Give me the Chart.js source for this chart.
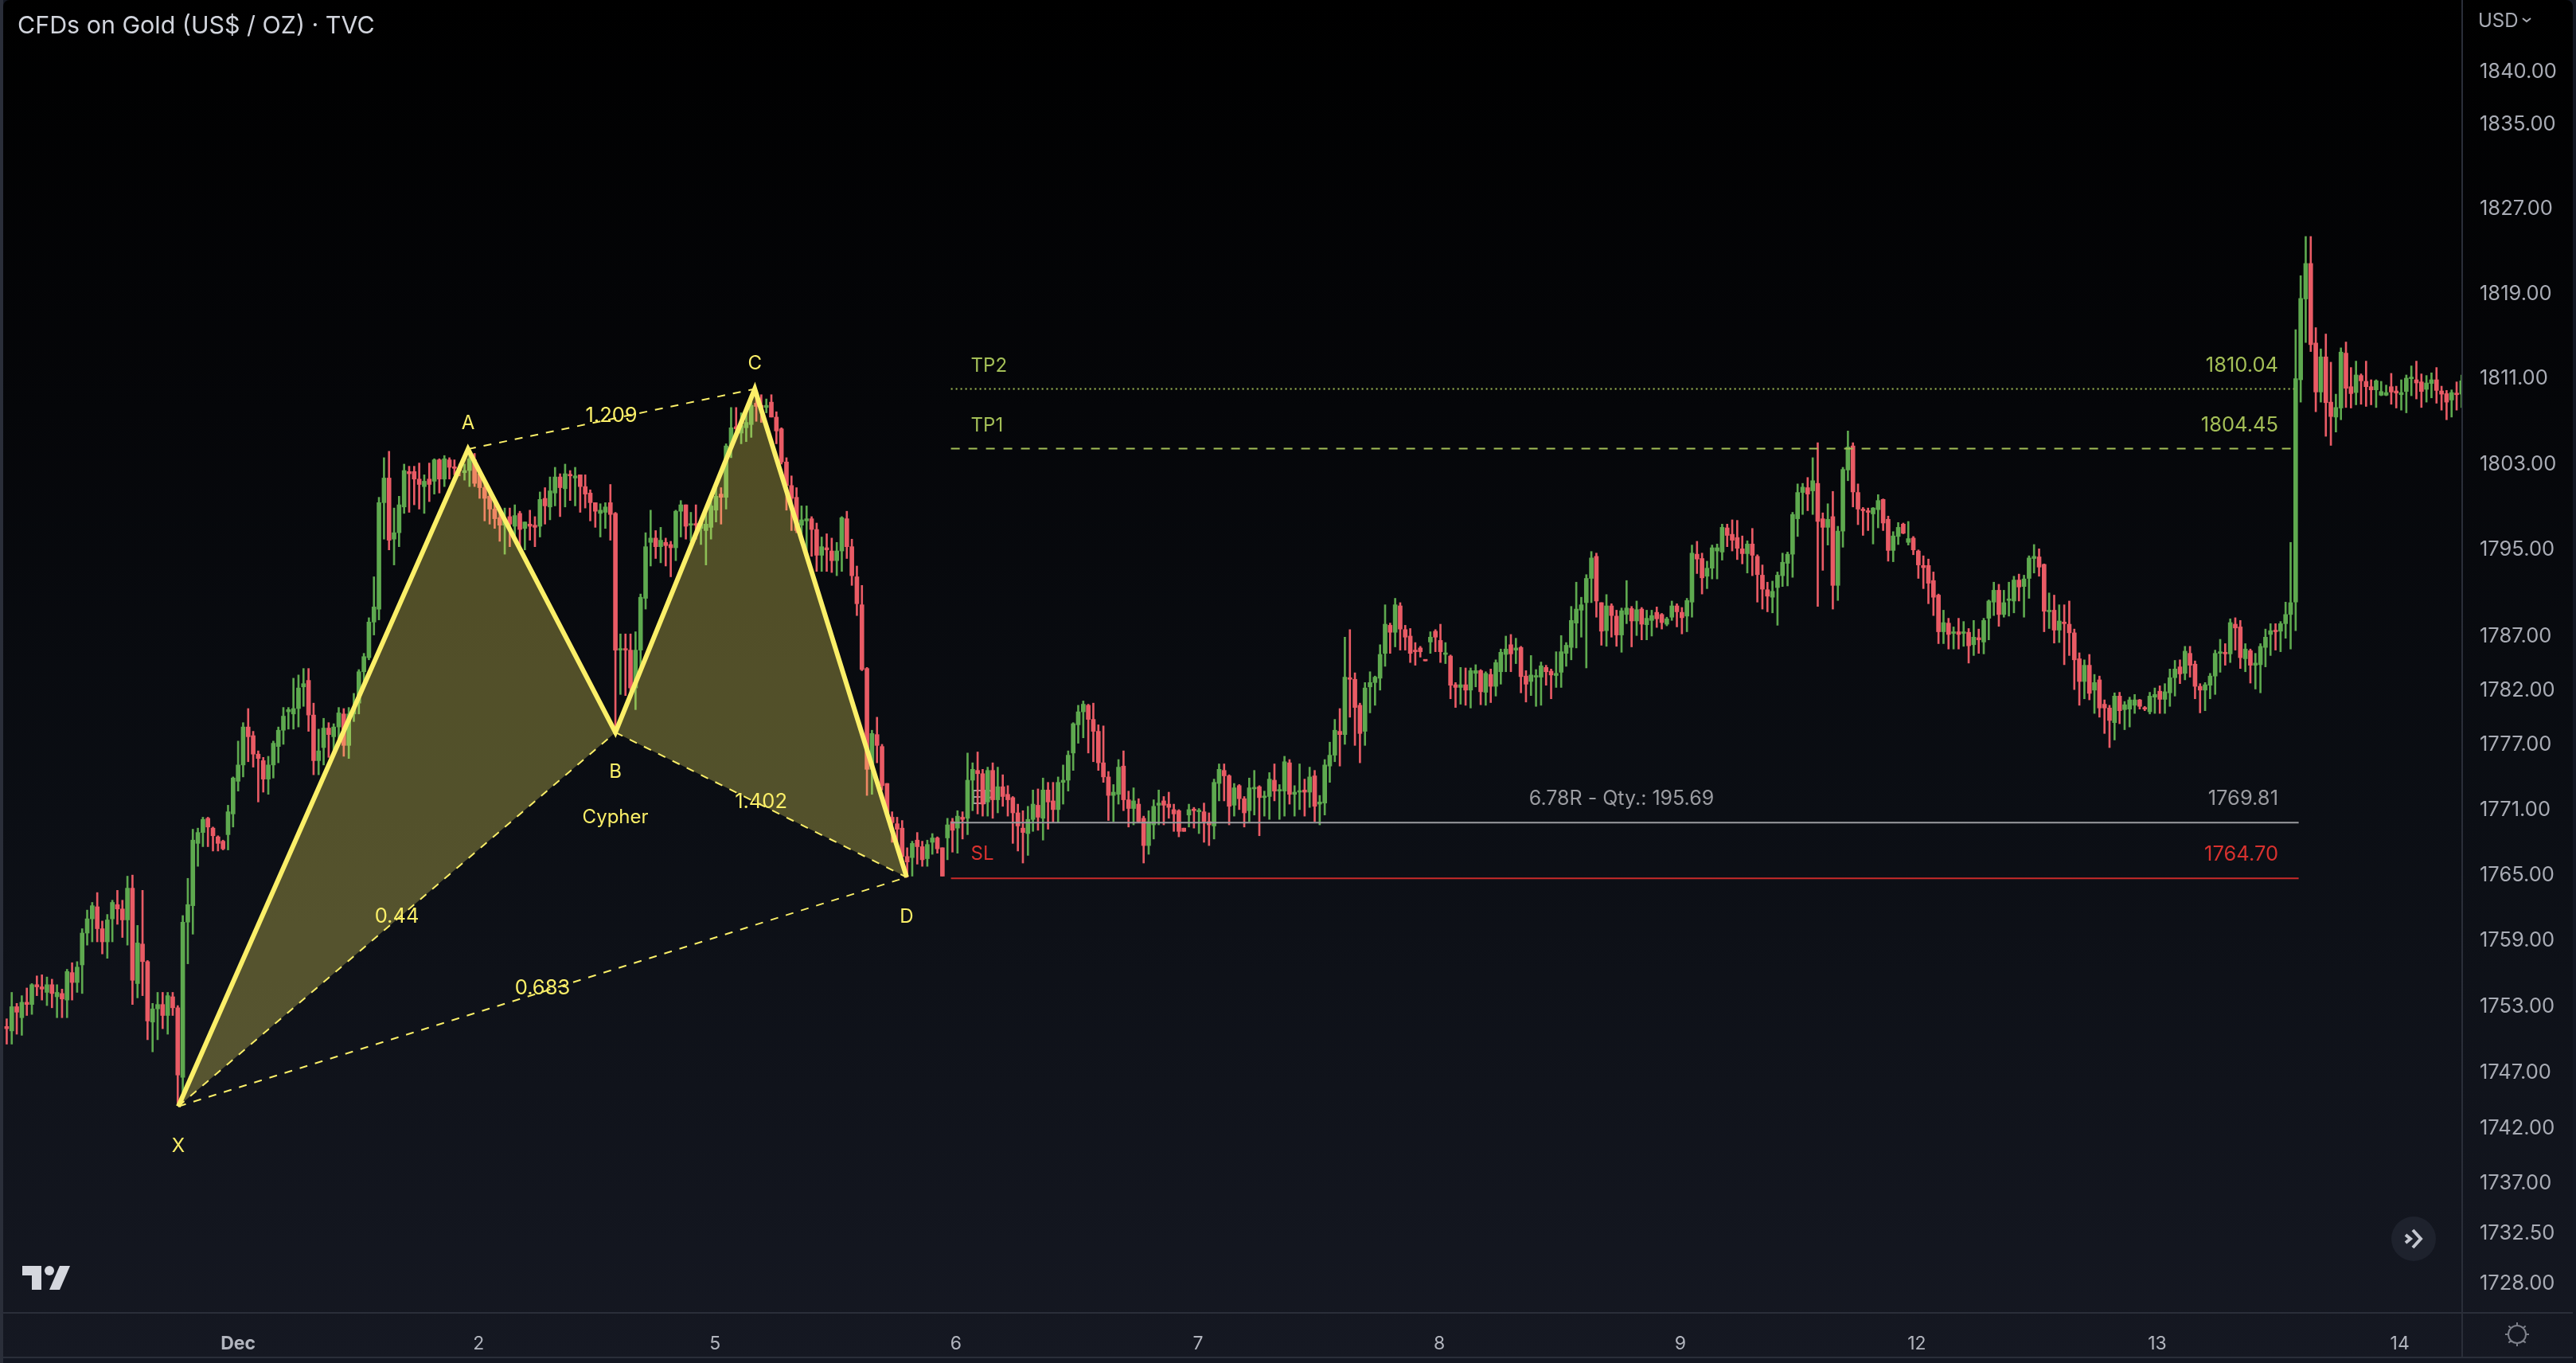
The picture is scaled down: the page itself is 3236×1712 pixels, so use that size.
<!DOCTYPE html>
<html lang="en">
<head>
    <meta charset="UTF-8">
    <title>CFDs on Gold (US$ / OZ) · TVC</title>
    <script src="https://cdn.jsdelivr.net/npm/chart.js"></script>
    <style>
        html, body { margin: 0; padding: 0; background: #131722; overflow: hidden; }
        body { width: 3236px; height: 1712px; position: relative; }
        .stripe { position: absolute; left: 0; top: 0; width: 4px; height: 1712px; background: #2a2e39; }
        .frame {
            position: absolute; left: 4px; top: 0; width: 3228px; height: 1705px;
            background: linear-gradient(#000000 0%, #050609 30%, #0b0e14 60%, #151822 100%);
            border-top-left-radius: 8px; border-top-right-radius: 8px;
        }
        .edge { position: absolute; left: 0; top: 1704px; width: 3232px; height: 2px; background: #2a2e39; }
    </style>
</head>
<body>
    <div class="stripe"></div>
    <div class="frame"><canvas id="goldChart" width="3228" height="1705"></canvas></div>
    <div class="edge"></div>

    <script>
        // every bar is [open, close, high, low]
        const barsNov30 = [
            [1751.2,1751,1751.9,1749.6],[1750.8,1753,1754.3,1749.6],[1753,1752.5,1753.3,1750.5],[1752,1753.4,1754,1750.4],[1753.4,1753.2,1754.7,1752.2],
            [1753.2,1755,1755.1,1752.3],[1755,1754.8,1755.8,1754],[1754.8,1754.6,1755.9,1753.6],[1754.3,1755,1755.7,1753.1],[1755,1754.2,1755.5,1752.9],
            [1753.9,1754.3,1755,1752],[1754.2,1753.7,1754.6,1752],[1753.6,1756.2,1756.4,1752],[1756.1,1755.2,1757,1753.6],[1755.2,1756.6,1757.1,1754.3],
            [1756.8,1759.7,1760.1,1754.2],[1759.7,1761,1761.8,1758.6],[1761,1762.2,1762.5,1758.9],[1762.1,1760.1,1763.4,1758.9],[1760.1,1758.9,1760.8,1757.8],
            [1758.9,1760.9,1761.4,1757.4],[1761,1762.5,1762.7,1758.9],[1762.3,1761.9,1763.6,1760.5],[1761.9,1760.9,1762.7,1759.3],[1760.9,1763.8,1764.9,1758.6],
            [1763.8,1755.4,1765,1753.2],[1755.1,1758.8,1760.4,1753.8],[1758.7,1757.1,1763.6,1754],[1757.1,1751.7,1757.2,1750],[1751.6,1752.8,1753.3,1748.9],
            [1752.8,1753.2,1754.3,1750],[1753.2,1752.2,1754.3,1751],[1752.2,1754,1754.3,1750.5],[1753.9,1752.9,1754.3,1752.2],[1752.9,1746.8,1753.1,1744.2],
            [1746.6,1760.7,1761.3,1745.1],[1760.7,1762.3,1764.7,1756.9],[1762.2,1768.2,1769.2,1759.6],[1767.9,1768.9,1769.3,1765.8],[1768.9,1770.1,1770.3,1767.6],
            [1770.2,1769.4,1770.3,1767.6],[1769.3,1768.6,1769.4,1767.2],[1768.5,1767.9,1768.6,1767.2],[1768.1,1767.4,1768.2,1767.3],[1768.7,1770.8,1771.4,1767.3],
            [1770.6,1773.9,1774,1769.4]
        ];
        const barsDec1 = [
            [1773.6,1775.1,1777.3,1772.7],[1775.1,1778.6,1779,1774],[1778.6,1777.7,1780.3,1775.4],[1777.8,1776.1,1778.2,1774.9],[1776.1,1775.7,1776.4,1771.7],
            [1775.5,1773.8,1775.8,1772.6],[1773.8,1775.1,1775.9,1772.4],[1775.1,1777.1,1777.3,1773.9],[1776.8,1778.3,1778.6,1775.3],[1778.3,1779.6,1780.4,1777],
            [1780,1780.2,1780.4,1778.4],[1779.8,1780.3,1783.1,1778.4],[1780.3,1782.2,1783.4,1778.6],[1782.3,1782.6,1784,1780.5],[1782.9,1779.7,1784,1778.2],
            [1779.7,1775.5,1780.8,1774.2],[1775.5,1776.4,1778.4,1774.2],[1776.7,1778.5,1779.4,1775.1],[1778.5,1777.9,1779,1775.8],[1777.7,1778.6,1778.9,1776.3],
            [1778.6,1779.9,1780.4,1777],[1779.8,1776.9,1780.3,1775.9],[1776.9,1779.8,1780.4,1775.7],[1779.8,1780.3,1781.7,1779.1],[1780.8,1783.7,1783.9,1779.8],
            [1783.7,1785.1,1785.4,1782.4],[1785,1788.3,1788.7,1784.8],[1788.3,1789.7,1792.5,1787.1],[1789.5,1799.4,1799.9,1788.5],[1799.4,1801.7,1803.6,1796],
            [1801.7,1795.9,1804.2,1795],[1796,1796.6,1798.9,1793.6],[1796.6,1799.2,1800,1795.3],[1799,1802.4,1803,1798.4],[1802.3,1802.1,1802.8,1798.5],
            [1802.3,1801.6,1802.8,1799.2],[1801.6,1801.1,1803.1,1798.8],[1800.9,1801.4,1802,1798.4],[1801.6,1801.1,1803.1,1799.5],[1801.4,1803.4,1803.5,1800.2],
            [1803.4,1801.6,1803.5,1800.3],[1801.6,1803.5,1803.8,1800.9],[1803.4,1802.7,1803.6,1801.6],[1802.7,1802.6,1803.4,1802],[1802.6,1802.4,1803,1801.9],
            [1802.2,1802.4,1803,1801.5],[1802.4,1803.5,1804.5,1800.9],[1803.4,1801.2,1804,1800.9]
        ];
        const barsDec2 = [
            [1802.1,1800.8,1802.5,1799.8],[1800.8,1799.8,1801.2,1797.7],[1800,1798.8,1800.6,1797.4],[1798.8,1797.9,1799.5,1797],[1798,1797.3,1798.9,1795.8],
            [1797.3,1797.8,1798.9,1794.6],[1798.1,1797.4,1798.9,1795.3],[1797.2,1798.2,1799.2,1796.2],[1798.4,1796.9,1798.6,1795.3],[1797,1797.6,1797.6,1795],
            [1797.4,1797.2,1798.7,1795.9],[1797.3,1797.1,1798.1,1795.3],[1797.2,1799.7,1800.4,1796.2],[1799.8,1799.1,1800.8,1797.4],[1799,1800.5,1801.8,1797.8],
            [1800.3,1801.8,1802.7,1799.1],[1801.8,1800.8,1802.1,1798.1],[1800.7,1802.1,1803,1799],[1802,1801.9,1802.4,1799.6],[1801.7,1801.9,1802.7,1799.1],
            [1802,1800.9,1802,1798.5],[1800.9,1800.2,1802,1798.9],[1800.3,1799.4,1800.6,1797.7],[1799.4,1798.6,1799.4,1797.1],[1798.4,1798.7,1799.3,1796.2],
            [1798.5,1799,1799.4,1797],[1799.4,1798.3,1801.1,1795.9],[1798.4,1785.7,1798.5,1778.4],[1785.7,1785.8,1787.2,1781.6],[1785.8,1785.7,1787.2,1781.5],
            [1785.7,1782.2,1787.2,1781.3],[1782.2,1785.7,1787.4,1780.2],[1785.7,1790.6,1790.9,1783.8],[1790.5,1795.3,1796.6,1789.5],[1795.7,1796.1,1798.7,1793.5],
            [1796.1,1795.3,1796.8,1794.2],[1795.3,1795.9,1797.1,1793.8],[1795.7,1795.4,1796.1,1793.5],[1795.5,1795.2,1795.8,1792.5],[1795.2,1798.6,1798.7,1794],
            [1798.6,1799.2,1799.6,1796.2],[1799.2,1797.2,1799.2,1796],[1797.3,1797.4,1798.5,1795.8],[1797.4,1797.3,1799.2,1796],[1797,1797.5,1797.9,1795.5],
            [1796.8,1797.4,1798.5,1793.6],[1797.1,1799.1,1799.8,1796]
        ];
        const barsDec5 = [
            [1798.7,1800,1801,1797.6],[1800.2,1799.9,1800.8,1797.4],[1799.9,1804.7,1804.9,1798.8],[1804.7,1806.4,1808.3,1803.6],[1806.5,1806.3,1808.3,1805.7],
            [1805.9,1806.6,1807.8,1804.9],[1806.4,1806.9,1808,1805.1],[1806.7,1808.5,1808.9,1805.5],[1808.7,1808.4,1809.9,1807],[1808.5,1808.3,1809.5,1806.9],
            [1808.3,1808.5,1809.1,1807.8],[1808.8,1807.4,1809.5,1807.4],[1807.4,1806.1,1807.9,1804.9],[1806.3,1803.2,1806.4,1803],[1803.2,1801,1803.6,1798.7],
            [1801,1799.8,1801.9,1796.8],[1799.9,1796.8,1800.8,1796.6],[1797.3,1797.8,1799.1,1796.2],[1797.7,1797.9,1799.1,1794.9],[1797.9,1796.9,1798.1,1794.4],
            [1796.9,1794.5,1797.5,1793],[1794.5,1795.3,1796.2,1793],[1795.2,1795,1796.5,1793],[1794.9,1794,1796.1,1792.9],[1794,1794.9,1795.7,1792.6],
            [1794.9,1798,1798.1,1793],[1797.9,1795.3,1798.6,1794.2],[1795.3,1792.6,1796,1791.7],[1792.5,1790,1793.5,1788.9],[1789.9,1783.9,1791.7,1783.8],
            [1784,1774.7,1784.1,1772.3],[1774.7,1778,1778.3,1772.4],[1777.9,1776.9,1779.5,1775.3],[1776.8,1773.2,1777,1772.8],[1773.4,1770.7,1773.4,1770.3],
            [1770.3,1769.8,1770.8,1768],[1769.7,1769.2,1770.3,1767.9],[1769.3,1766.7,1770,1765.8],[1766.7,1766.2,1767.5,1764.8],[1766.6,1767.9,1768.1,1764.9],
            [1768.2,1767.6,1768.9,1766],[1767.6,1766.4,1768.1,1765.8],[1766.5,1767.8,1768.2,1765.8],[1768,1768.4,1768.8,1766.9],[1768.4,1767.4,1768.5,1767],
            [1767.5,1764.9,1767.5,1764.9],[1768.4,1769.6,1770.2,1766.4],[1769.9,1769.1,1770.2,1767.1]
        ];
        const barsDec6 = [
            [1769.3,1770.4,1770.9,1767],[1770.3,1770.1,1770.8,1768.3],[1770.2,1773.7,1776.2,1768.7],[1773.7,1774.7,1775.3,1770.9],[1774.6,1774.3,1776.3,1770.6],
            [1774.3,1771.5,1774.7,1770.4],[1771.7,1774.6,1774.9,1770.4],[1774.6,1771.9,1775.3,1770.2],[1771.9,1773.1,1774.9,1770.7],[1773.1,1772.2,1774.2,1771.3],
            [1772.4,1771.9,1773.2,1770.4],[1772.1,1770.7,1772.2,1767.9],[1770.7,1769.5,1771.5,1767.2],[1769.3,1768.9,1770.9,1766.1],[1768.8,1770.1,1771.3,1766.8],
            [1770.1,1771.5,1772.8,1769],[1771.4,1770.3,1772.9,1769.1],[1770.2,1772.8,1773.9,1768.2],[1772.8,1771.7,1773.5,1769.2],[1771.8,1771,1773.5,1769.8],
            [1771,1773.5,1774,1769.8],[1773.5,1773.7,1775.1,1771.5],[1773.7,1776,1776.4,1772.7],[1776.2,1778.9,1779,1774.6],[1778.8,1780,1780.6,1777.1],
            [1780,1780.7,1781,1777.6],[1780.6,1779.3,1780.7,1776.2],[1779.3,1778.2,1780.8,1775.4],[1778.2,1775.3,1778.8,1774.6],[1775.3,1774,1778.7,1773.5],
            [1774,1772.3,1774.5,1770],[1772.3,1772.6,1773.3,1769.9],[1772.4,1774.9,1775.6,1771.5],[1775,1771.9,1776.4,1770.9],[1771.9,1771.1,1772.7,1769.4],
            [1771.1,1771.8,1773,1769.6],[1771.5,1769.9,1772,1769.8],[1770.2,1767.7,1770.4,1766.1],[1767.7,1769.9,1770.9,1766.9],[1769.6,1771.3,1771.9,1768.3],
            [1771.4,1771.6,1772.8,1769.6],[1771.8,1771.4,1772.2,1769.6],[1771.5,1771.2,1772.6,1770.2],[1771,1770.6,1771.5,1769],[1770.9,1769,1771,1768.5],
            [1769.3,1769,1769.3,1769],[1770.5,1771,1771.5,1769.4],[1771,1770.9,1771.2,1769.3]
        ];
        const barsDec7 = [
            [1770.8,1770.9,1771.1,1768.8],[1770.8,1769.9,1771.6,1768],[1769.9,1769.6,1770.7,1767.7],[1769.5,1773.5,1773.8,1768.3],[1773.4,1774.7,1775.2,1771.8],
            [1774.6,1774.1,1775.2,1771.8],[1774.1,1771.3,1774.2,1769.6],[1771.4,1773,1773.4,1770.4],[1773.2,1772,1773.3,1771],[1772,1770.7,1772.2,1769.4],
            [1770.9,1773,1773.9,1769.9],[1772.9,1773,1774.6,1770.5],[1773.1,1772.1,1773.2,1768.6],[1772.1,1772.2,1772.7,1770.4],[1772.2,1773.8,1774.4,1770.1],
            [1773.7,1772.7,1775.2,1771.8],[1772.7,1772.8,1773.3,1770.1],[1772.7,1775.4,1775.9,1770.4],[1775.3,1772.4,1775.6,1771.5],[1772.4,1772.6,1773.2,1770.4],
            [1772.6,1772.7,1775.2,1771],[1772.8,1772.6,1773.8,1770.4],[1772.6,1774,1774.9,1771.2],[1774.1,1771.3,1774.6,1769.9],[1771.5,1771.7,1772.3,1769.6],
            [1771.6,1775.1,1775.6,1770.5],[1775,1776,1777.2,1773.5],[1776,1778.3,1779.3,1775.4],[1778.2,1777.9,1780.3,1775],[1777.9,1783.2,1786.9,1777],
            [1783.1,1783,1787.6,1779.5],[1783,1780.4,1783.6,1776.9],[1780.6,1778,1780.8,1775.3],[1778.2,1782.2,1782.7,1776.9],[1782.3,1782.7,1783.7,1779.9],
            [1782.7,1783.2,1783.3,1780.6],[1783.1,1785.3,1786.2,1782],[1785.4,1788.1,1789.9,1784.2],[1788,1787.35,1788.2,1785.4],[1787.35,1789.9,1790.5,1786],
            [1789.8,1787.65,1790.1,1785.7],[1787.6,1786.9,1788,1785.7],[1787,1785.4,1787.7,1784.55],[1785.7,1785.55,1786.4,1784.3],[1785.9,1785.55,1786.05,1785.05],
            [1784.8,1784.7,1784.8,1784.7],[1786.45,1786.9,1787.4,1785.4],[1787.45,1786.9,1787.6,1785.55]
        ];
        const barsDec8 = [
            [1786.6,1785.55,1788.1,1784.55],[1785.3,1785.4,1786.4,1784.45],[1785.15,1782.45,1785.25,1781.2],[1782.5,1782.25,1782.7,1780.4],[1782.25,1782.5,1784.1,1780.7],
            [1782.5,1782,1784.05,1780.6],[1782,1783.8,1784.05,1780.35],[1783.55,1783.8,1784.35,1782.3],[1783.8,1781.85,1783.9,1780.65],[1781.8,1783.55,1783.7,1780.6],
            [1783.45,1782.35,1783.95,1780.85],[1782.35,1784.55,1784.8,1781.45],[1783.7,1785.5,1785.8,1782.55],[1785.3,1785.8,1787,1783.7],[1786.2,1785.35,1787.15,1783.7],
            [1785.7,1785.9,1786.8,1784.45],[1785.95,1783.25,1786.05,1781.75],[1783.3,1782.55,1783.8,1780.9],[1782.8,1783.4,1785.2,1781.5],[1783.2,1783.3,1783.9,1780.5],
            [1783.2,1784.25,1784.6,1780.6],[1784.1,1783.7,1784.3,1782.45],[1783.75,1783.4,1783.95,1781.2],[1783.35,1783.55,1785.55,1782.25],[1783.65,1785.55,1787.05,1782.25],
            [1785.4,1786.15,1786.4,1784.2],[1785.95,1788.45,1789.75,1784.8],[1788.2,1789.5,1792,1785.9],[1789.4,1789.9,1790.6,1786.9],[1790.1,1792.35,1792.7,1784.05],
            [1792.35,1794.25,1794.85,1790.1],[1794.4,1790.25,1794.7,1788.75],[1790.1,1787.45,1790.1,1786.15],[1787.5,1789.8,1790.85,1786.05],[1789.8,1788.9,1790,1786.9],
            [1788.85,1787.1,1789.4,1786.05],[1787.1,1789.35,1789.6,1785.5],[1789,1789.6,1792.15,1788.15],[1789.55,1788.4,1789.75,1786],[1788.4,1789.45,1790.25,1787.05],
            [1789.5,1788.1,1789.65,1786.65],[1788.05,1788.65,1789.4,1786.65],[1788.45,1788.9,1789.4,1787],[1789.2,1788.6,1789.7,1787.8],[1789,1788.25,1789.1,1787.65],
            [1788.1,1788.6,1788.75,1787.95],[1788.75,1789.8,1790.25,1788.45],[1789.8,1789.25,1790,1787.85]
        ];
        const barsDec9 = [
            [1789.2,1788.7,1789.65,1787.2],[1788.85,1790.3,1790.5,1787.4],[1790.15,1794.7,1795.45,1788.75],[1794.6,1794.15,1795.8,1792.8],[1794.2,1792.4,1794.7,1790.9],
            [1792.55,1793.3,1793.95,1791.4],[1793.3,1795.2,1795.45,1792.3],[1794.9,1795.2,1795.55,1792.3],[1794.8,1797.1,1797.4,1794.05],[1797.05,1796.35,1797.4,1795.3],
            [1796.45,1795.9,1797.8,1794.9],[1796.15,1795.15,1797.75,1794.1],[1795.1,1794.65,1796.3,1793.7],[1794.65,1795.55,1795.85,1792.85],[1795.55,1794.5,1797,1792.6],
            [1794.4,1792.7,1794.55,1790.15],[1792.65,1791.35,1793.6,1789.5],[1791.3,1790.7,1792,1789.25],[1790.6,1791.15,1792.1,1789.15],[1791.5,1792.65,1792.95,1788],
            [1792.6,1793.85,1794.7,1791.6],[1793.75,1794.6,1794.8,1791.65],[1794.6,1798.3,1798.5,1792.45],[1797.9,1800.35,1801.15,1796.25],[1800.35,1800.85,1801.2,1798.3],
            [1800.8,1800.2,1801.75,1798.65],[1800.5,1801.45,1803.6,1798.3],[1801.2,1797.65,1805,1789.75],[1797.9,1797.1,1798.45,1793.1],[1797.1,1797.85,1799.3,1795.45],
            [1798.1,1791.7,1800.45,1789.5],[1791.7,1796.75,1797.2,1790.3],[1796.75,1802.5,1802.7,1795.25],[1802.45,1804.6,1806.1,1801.45],[1804.7,1800.4,1805,1799],
            [1800.35,1798.8,1801.15,1797.35],[1798.8,1798.65,1798.95,1796.35],[1798.65,1798.5,1798.9,1796.8],[1798.35,1798.9,1798.95,1795.55],[1798.75,1799.6,1800.15,1797.05],
            [1799.7,1797.5,1799.75,1796.8],[1797.85,1794.95,1798.15,1793.95],[1794.95,1796.3,1796.7,1793.9],[1796.25,1797.1,1797.55,1795.5],[1797.4,1796.55,1797.5,1796.5],
            [1795.7,1796.05,1797.65,1795.45],[1796.1,1795,1796.25,1794.55]
        ];
        const barsDec12 = [
            [1794.9,1793.6,1795,1792.35],[1793.55,1793.35,1794.45,1791.4],[1793.55,1791.9,1794.15,1790],[1792.15,1790.6,1792.95,1788.9],[1790.8,1787.4,1790.9,1786.3],
            [1787.4,1788.25,1789.4,1786.3],[1788.2,1787.15,1788.65,1785.8],[1787.25,1787.4,1787.85,1785.8],[1787.4,1787.15,1788.65,1785.8],[1787.25,1787.4,1788.35,1786.05],
            [1787.35,1786.1,1787.7,1784.5],[1786.2,1786.9,1788.45,1785.2],[1786.85,1786.65,1787.65,1785.4],[1786.45,1788.45,1788.65,1785.35],[1788.65,1790.25,1790.35,1786.65],
            [1790.15,1791.25,1792,1788.9],[1791.25,1789,1791.8,1787.9],[1789,1790.1,1791.25,1788.75],[1790.3,1790.45,1792,1788.85],[1790.25,1792.2,1792.55,1789.15],
            [1792.2,1791.55,1792.75,1790.25],[1791.6,1792.3,1792.65,1788.75],[1792.35,1794.25,1794.45,1790.5],[1794.2,1794.4,1795.5,1792.85],[1794.35,1793.4,1795.1,1792.55],
            [1793.65,1789.3,1793.7,1787.4],[1789.25,1789.4,1791,1787.7],[1789.4,1787.55,1790.8,1786.35],[1787.55,1788.4,1789.9,1786.4],[1788.3,1788.15,1789.9,1784.35],
            [1788.1,1787.3,1790.25,1785.2],[1787.3,1784.8,1787.65,1782.05],[1784.9,1782.8,1785.45,1780.6],[1782.8,1784.3,1784.8,1781.2],[1784.3,1781.7,1785.3,1781.1],
            [1782,1782.7,1783.45,1779.85],[1782.95,1780.35,1783.3,1779.5],[1780.7,1780.35,1781.1,1778],[1780.35,1779.2,1780.6,1776.7],[1779,1781.45,1781.75,1777.4],
            [1781.45,1780.1,1781.8,1778.9],[1780.2,1780.65,1780.95,1778.35],[1780.25,1781.1,1781.35,1778.6],[1780.6,1781.1,1781.6,1779.85],[1781.1,1780.5,1781.15,1780.25],
            [1780.35,1780.25,1780.5,1780.1],[1780,1781.45,1781.8,1779.8],[1781.35,1781.6,1782.2,1779.85]
        ];
        const barsDec13 = [
            [1781.9,1781.15,1782.4,1779.85],[1781.15,1781.85,1782.6,1779.85],[1781.75,1783.15,1783.95,1780.5],[1783.15,1783.95,1784.75,1781.45],[1784.15,1783.5,1784.8,1782.6],
            [1783.55,1785.6,1786.05,1782.95],[1785.4,1784.3,1786.05,1783.2],[1784.4,1782.35,1784.7,1781.2],[1782.35,1782,1782.6,1779.9],[1782,1782.5,1782.7,1780.1],
            [1782.45,1783.3,1783.55,1781.2],[1783.3,1785.4,1785.7,1781.6],[1785.4,1785.55,1786.7,1783.65],[1785.5,1785.35,1786.3,1784.3],[1785.35,1788.25,1788.6,1784.55],
            [1788.1,1787.75,1788.7,1785.7],[1787.85,1785,1788.45,1784],[1784.9,1785.8,1786.3,1783.7],[1785.65,1784.3,1785.8,1782.65],[1784.3,1784.5,1785.4,1782.1],
            [1784.35,1786.05,1786.3,1781.75],[1785.95,1786.9,1787.65,1784.15],[1787.15,1787.5,1788.15,1785.2],[1787.5,1787.4,1788.15,1785.7],[1787.45,1788.15,1788.35,1785.55],
            [1788.15,1789,1790.15,1786.8],[1789,1790.1,1795.7,1785.8],[1790.15,1811,1815.6,1787.5],[1810.9,1818.55,1820.7,1808.8],[1818.5,1821.85,1824.4,1814.4],
            [1821.85,1814.2,1824.4,1813.55],[1814.35,1809.75,1815.8,1807.9],[1809.75,1813.05,1813.8,1808.8],[1813.05,1808.75,1815.2,1805.6],[1808.8,1807.45,1812.55,1804.75],
            [1807.4,1808.3,1809.55,1806],[1808.25,1813.5,1813.9,1807.15],[1813.4,1810.1,1814.45,1808.3],[1810.25,1809.6,1812.05,1808.25],[1809.7,1811.35,1812.65,1808.55],
            [1811.3,1810.8,1811.45,1808.6],[1810.75,1810.25,1812.65,1808.4],[1810.25,1809.95,1810.9,1808.55],[1809.95,1810.8,1810.9,1808.3],[1809.45,1809.8,1810.75,1809.4],
            [1809.45,1809.7,1810.4,1809.4],[1810.25,1809.75,1811.5,1808.6],[1809.85,1809.65,1810.3,1808.25]
        ];
        const barsDec14 = [
            [1809.5,1809.7,1810.9,1808.05],[1809.8,1811.05,1811.35,1807.8],[1811,1811.1,1812.2,1809.4],[1810.9,1810.6,1812.65,1809.1],[1810.7,1809.8,1811.45,1808.3],
            [1810,1810.6,1811.3,1808.8],[1810.55,1810.9,1811.55,1809.2],[1810.9,1809.9,1812.05,1808.7],[1809.85,1809.55,1810.3,1808.05],[1809.6,1808.8,1809.9,1807.15],
            [1809,1809.7,1809.95,1807.4],[1809.6,1809.5,1810.7,1808.05],[1809.55,1810.8,1811.35,1808.3]
        ];

        const priceTicks = [1840, 1835, 1827, 1819, 1811, 1803, 1795, 1787, 1782, 1777, 1771, 1765, 1759, 1753, 1747, 1742, 1737, 1732.5, 1728];
        const dayLabels = ["Dec", "2", "5", "6", "7", "8", "9", "12", "13", "14"];
        const dayBars = [46, 93.8, 140.8, 188.7, 236.8, 284.8, 332.7, 379.7, 427.5, 475.7];

        // harmonic pattern points: bar number and price
        const patternNames = ["X", "A", "B", "C", "D"];
        const patternBars = [34.1, 91.7, 121, 148.7, 178.9];
        const patternPrices = [1743.96, 1804.4, 1778.1, 1810.04, 1764.8];

        const levelStart = 187.7;
        const tp2Price = 1810.04;
        const tp1Price = 1804.45;
        const entryPrice = 1769.81;
        const stopPrice = 1764.70;

        const bars = [].concat(barsNov30, barsDec1, barsDec2, barsDec5, barsDec6, barsDec7, barsDec8, barsDec9, barsDec12, barsDec13, barsDec14);

        const GREEN = "#5ea94f";
        const RED = "#e95b65";
        const YELLOW = "#fbef68";
        const OLIVE = "#a4bf57";
        const GREY = "#9b9ca1";
        const LEVEL_RED = "#c92a2a";
        const FONT = "Inter, sans-serif";
        const PRICE_MIN = 1725.4;
        const PRICE_MAX = 1846.9;

        function colours() {
            return bars.map(b => b[1] >= b[0] ? GREEN : RED);
        }

        function point(i) {
            return { x: patternBars[i], y: patternPrices[i] };
        }

        function dashed(from, to) {
            return {
                type: "line",
                data: [point(from), point(to)],
                borderColor: YELLOW,
                borderWidth: 2,
                borderDash: [10, 10],
                pointRadius: 0,
                order: 2
            };
        }

        function polygon(a, b, c) {
            return {
                type: "line",
                data: [point(a), point(b), point(c), point(a)],
                borderWidth: 0,
                borderColor: "transparent",
                backgroundColor: "rgba(252, 240, 100, 0.3)",
                fill: "shape",
                tension: 0,
                pointRadius: 0,
                order: 3
            };
        }

        function level(price, end, colour, dash) {
            return {
                type: "line",
                data: [{ x: levelStart, y: price }, { x: end, y: price }],
                borderColor: colour,
                borderWidth: 2,
                borderDash: dash,
                pointRadius: 0,
                order: 2
            };
        }

        function text(ctx, str, x, y, colour, align, size, weight) {
            ctx.font = (weight || "normal") + " " + (size || 24) + "px " + FONT;
            ctx.fillStyle = colour;
            ctx.textAlign = align || "center";
            ctx.textBaseline = "middle";
            ctx.fillText(str, x, y);
        }

        // the "EP" tag sits behind the candles
        const behindLabels = {
            id: "behindLabels",
            beforeDatasetsDraw(chart) {
                const { ctx, scales: { x, y } } = chart;
                text(ctx, "EP", x.getPixelForValue(levelStart) + 25, y.getPixelForValue(entryPrice) - 30, GREY, "left");
            }
        };

        const labels = {
            id: "labels",
            afterDatasetsDraw(chart) {
                const { ctx, scales: { x, y } } = chart;
                const px = i => x.getPixelForValue(patternBars[i]);
                const py = i => y.getPixelForValue(patternPrices[i]);
                const mid = (a, b, str) => text(ctx, str, (px(a) + px(b)) / 2, (py(a) + py(b)) / 2 - 4, YELLOW, "center", 25.5);

                // pattern letters: A and C above the point, the others below
                patternNames.forEach((name, i) => {
                    text(ctx, name, px(i), py(i) + (i === 1 || i === 3 ? -32 : 50), YELLOW);
                });
                text(ctx, "Cypher", px(2), py(2) + 107, YELLOW);
                mid(0, 2, "0.44");
                mid(0, 4, "0.683");
                mid(1, 3, "1.209");
                mid(2, 4, "1.402");

                const left = x.getPixelForValue(levelStart) + 25;
                const right = 2858;
                [["TP2", tp2Price, OLIVE, -29, "1810.04"], ["TP1", tp1Price, OLIVE, -29, "1804.45"], ["SL", stopPrice, "#d8322f", -30, "1764.70"]].forEach(l => {
                    const py2 = y.getPixelForValue(l[1]) + l[3];
                    text(ctx, l[0], left, py2, l[2], "left");
                    text(ctx, l[4], right, py2, l[2], "right", 25.5);
                });
                const ey = y.getPixelForValue(entryPrice) - 30;
                text(ctx, "6.78R - Qty.: 195.69", 2033, ey, GREY, "center", 25);
                text(ctx, "1769.81", right, ey, GREY, "right", 25.5);
            }
        };

        // title, axis frame, logo and the small buttons
        const chrome = {
            id: "chrome",
            afterDraw(chart) {
                const { ctx, chartArea } = chart;
                const w = chart.width, h = chart.height;
                ctx.save();
                ctx.strokeStyle = "#2a2e39";
                ctx.lineWidth = 2;
                ctx.beginPath();
                ctx.moveTo(0, chartArea.bottom);
                ctx.lineTo(w, chartArea.bottom);
                ctx.moveTo(chartArea.right, 0);
                ctx.lineTo(chartArea.right, h);
                ctx.stroke();

                text(ctx, "CFDs on Gold (US$ / OZ) · TVC", 18, 33, "#d1d4dc", "left", 30.4);
                text(ctx, "USD", 3109, 27, "#a9acb5", "left", 24);
                ctx.strokeStyle = "#a9acb5";
                ctx.lineWidth = 2;
                ctx.beginPath();
                ctx.moveTo(3165, 23);
                ctx.lineTo(3170, 27);
                ctx.lineTo(3175, 23);
                ctx.stroke();

                // logo
                ctx.fillStyle = "#d5d7de";
                ctx.beginPath();
                ctx.moveTo(24, 1590); ctx.lineTo(48, 1590); ctx.lineTo(48, 1620); ctx.lineTo(36, 1620);
                ctx.lineTo(36, 1602); ctx.lineTo(24, 1602);
                ctx.closePath();
                ctx.fill();
                ctx.beginPath();
                ctx.arc(58, 1596, 6, 0, Math.PI * 2);
                ctx.fill();
                ctx.beginPath();
                ctx.moveTo(71, 1590); ctx.lineTo(84, 1590); ctx.lineTo(71, 1620); ctx.lineTo(58, 1620);
                ctx.closePath();
                ctx.fill();

                // scroll button
                ctx.fillStyle = "#1e222d";
                ctx.beginPath();
                ctx.arc(3028, 1556, 28, 0, Math.PI * 2);
                ctx.fill();
                ctx.strokeStyle = "#c4c7d0";
                ctx.lineWidth = 4;
                ctx.beginPath();
                ctx.moveTo(3018, 1551); ctx.lineTo(3024, 1556); ctx.lineTo(3018, 1561);
                ctx.moveTo(3027, 1545); ctx.lineTo(3037, 1556); ctx.lineTo(3027, 1567);
                ctx.stroke();

                // settings gear
                ctx.strokeStyle = "#7d808a";
                ctx.lineWidth = 2;
                ctx.beginPath();
                ctx.arc(3158, 1676, 11, 0, Math.PI * 2);
                for (let a = 0; a < 8; a++) {
                    const t = a * Math.PI / 4;
                    ctx.moveTo(3158 + Math.cos(t) * 11, 1676 + Math.sin(t) * 11);
                    ctx.lineTo(3158 + Math.cos(t) * 15, 1676 + Math.sin(t) * 15);
                }
                ctx.stroke();
                ctx.restore();
            }
        };

        const barColours = colours();

        new Chart(document.getElementById("goldChart"), {
            data: {
                datasets: [
                    polygon(0, 1, 2),
                    polygon(2, 3, 4),
                    {
                        type: "line",
                        data: patternBars.map((b, i) => point(i)),
                        borderColor: YELLOW,
                        borderWidth: 6,
                        borderJoinStyle: "miter",
                        pointRadius: 0,
                        tension: 0,
                        order: 1
                    },
                    dashed(0, 2),
                    dashed(2, 4),
                    dashed(0, 4),
                    dashed(1, 3),
                    level(tp2Price, 454.7, OLIVE, [2, 4]),
                    level(tp1Price, 454.7, OLIVE, [11, 11]),
                    level(entryPrice, 455.6, GREY, []),
                    level(stopPrice, 455.6, LEVEL_RED, []),
                    {
                        type: "bar",
                        data: bars.map((b, i) => ({ x: i, y: [b[1], b[0]] })),
                        backgroundColor: barColours,
                        barThickness: 5,
                        minBarLength: 2,
                        grouped: false,
                        order: 4
                    },
                    {
                        type: "bar",
                        data: bars.map((b, i) => ({ x: i, y: [b[3], b[2]] })),
                        backgroundColor: barColours,
                        barThickness: 2,
                        grouped: false,
                        order: 5
                    }
                ]
            },
            options: {
                responsive: false,
                animation: false,
                devicePixelRatio: 1,
                layout: { padding: 0, autoPadding: false },
                plugins: { legend: { display: false }, tooltip: { enabled: false } },
                scales: {
                    x: {
                        type: "linear",
                        offset: false,
                        min: -0.7,
                        max: 488.1,
                        grid: { display: false },
                        border: { display: false },
                        afterBuildTicks(scale) {
                            scale.ticks = dayBars.map(v => ({ value: v }));
                        },
                        afterFit(scale) {
                            scale.height = 56;
                        },
                        ticks: {
                            autoSkip: false,
                            maxRotation: 0,
                            padding: 17,
                            color: "#b2b5be",
                            font: c => ({ family: FONT, size: 23, weight: c.index === 0 ? "bold" : "normal" }),
                            callback: (value, index) => dayLabels[index]
                        }
                    },
                    y: {
                        type: "logarithmic",
                        position: "right",
                        min: PRICE_MIN,
                        max: PRICE_MAX,
                        grid: { display: false },
                        border: { display: false },
                        afterBuildTicks(scale) {
                            // the log scale rounds its range up, put it back
                            scale.min = PRICE_MIN;
                            scale.max = PRICE_MAX;
                            scale.ticks = priceTicks.map(v => ({ value: v }));
                        },
                        afterFit(scale) {
                            scale.width = 139;
                            // tick padding would otherwise push the plot down from the top edge
                            scale.paddingTop = 0;
                            scale.paddingBottom = 0;
                        },
                        ticks: {
                            autoSkip: false,
                            padding: 14,
                            color: "#a9acb5",
                            font: { family: FONT, size: 25.5 },
                            callback: value => value.toFixed(2)
                        }
                    }
                }
            },
            plugins: [behindLabels, labels, chrome]
        });
    </script>
</body>
</html>
